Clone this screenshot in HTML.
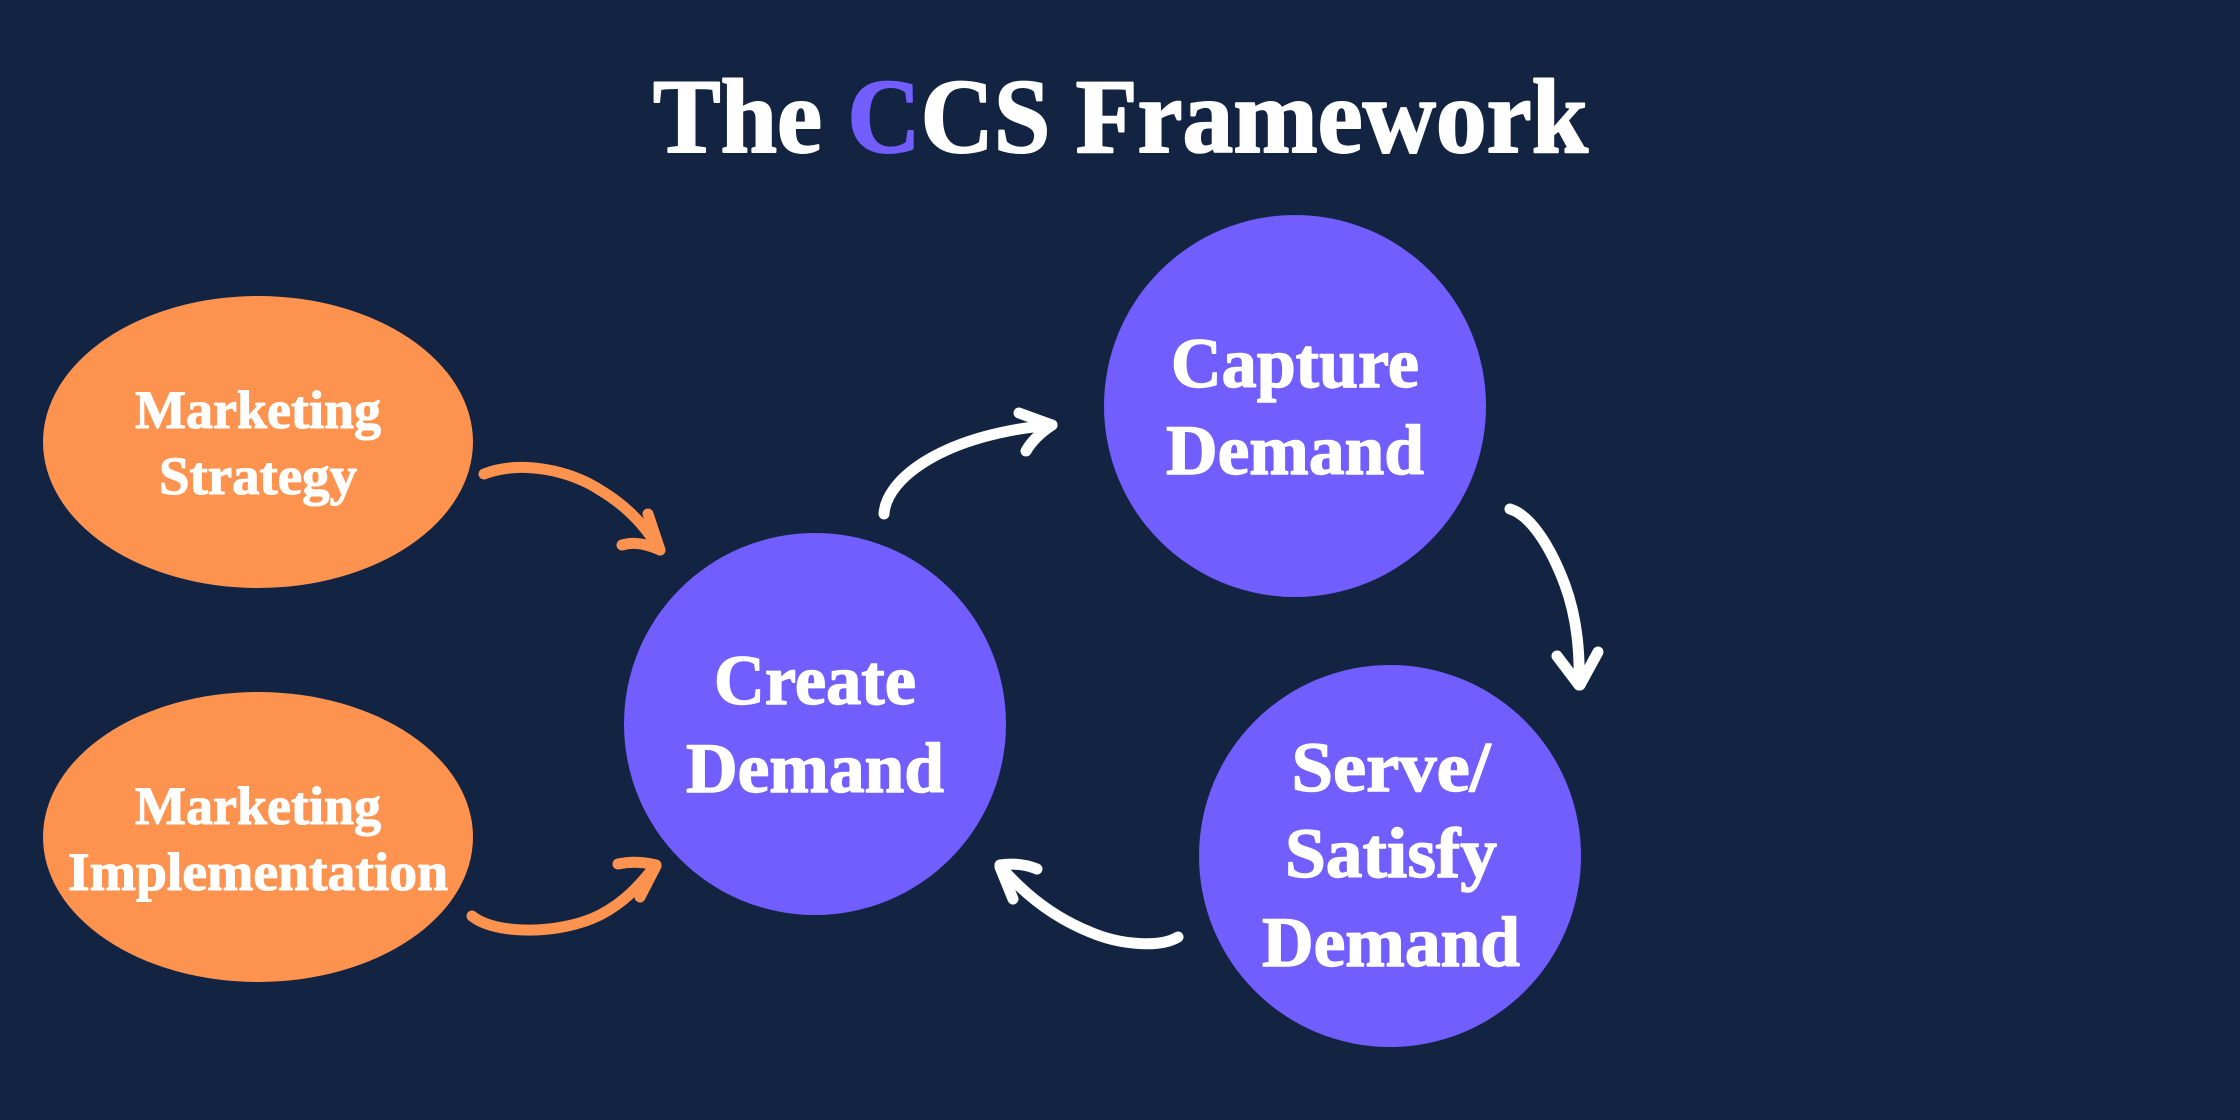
<!DOCTYPE html>
<html>
<head>
<meta charset="utf-8">
<style>
  html, body { margin: 0; padding: 0; background: #122442; }
  svg { display: block; }
  text { font-family: "Liberation Serif", "DejaVu Serif", serif; font-weight: bold; fill: #ffffff; stroke: #ffffff; stroke-linejoin: round; }
</style>
</head>
<body>
<svg width="2240" height="1120" viewBox="0 0 2240 1120" xmlns="http://www.w3.org/2000/svg">
  <rect x="0" y="0" width="2240" height="1120" fill="#122442"/>

  <!-- Title -->
  <text x="653" y="152" font-size="106" stroke-width="2" textLength="935" lengthAdjust="spacingAndGlyphs">The <tspan fill="#725dfe" stroke="#725dfe">C</tspan>CS Framework</text>

  <!-- Orange ellipses -->
  <ellipse cx="258" cy="442" rx="215" ry="146" fill="#fe9350"/>
  <ellipse cx="258" cy="837" rx="215" ry="145" fill="#fe9350"/>

  <g stroke-width="1.1">
  <text x="258" y="428" font-size="54" text-anchor="middle" textLength="246" lengthAdjust="spacingAndGlyphs">Marketing</text>
  <text x="258" y="494" font-size="54" text-anchor="middle" textLength="198" lengthAdjust="spacingAndGlyphs">Strategy</text>
  <text x="258" y="824" font-size="54" text-anchor="middle" textLength="246" lengthAdjust="spacingAndGlyphs">Marketing</text>
  <text x="258" y="890" font-size="54" text-anchor="middle" textLength="380" lengthAdjust="spacingAndGlyphs">Implementation</text>
  </g>

  <!-- Purple circles -->
  <circle cx="815" cy="724" r="191" fill="#725dfe"/>
  <circle cx="1295" cy="406" r="191" fill="#725dfe"/>
  <circle cx="1390" cy="856" r="191" fill="#725dfe"/>

  <g stroke-width="1.4">
  <text x="815" y="704" font-size="71" text-anchor="middle" textLength="202" lengthAdjust="spacingAndGlyphs">Create</text>
  <text x="815" y="792" font-size="71" text-anchor="middle" textLength="258" lengthAdjust="spacingAndGlyphs">Demand</text>

  <text x="1295" y="387" font-size="71" text-anchor="middle" textLength="248" lengthAdjust="spacingAndGlyphs">Capture</text>
  <text x="1295" y="474" font-size="71" text-anchor="middle" textLength="258" lengthAdjust="spacingAndGlyphs">Demand</text>

  <text x="1391" y="791" font-size="71" text-anchor="middle" textLength="199" lengthAdjust="spacingAndGlyphs">Serve/</text>
  <text x="1391" y="877" font-size="71" text-anchor="middle" textLength="212" lengthAdjust="spacingAndGlyphs">Satisfy</text>
  <text x="1391" y="966" font-size="71" text-anchor="middle" textLength="258" lengthAdjust="spacingAndGlyphs">Demand</text>
  </g>

  <!-- Orange arrows -->
  <g fill="none" stroke="#fe9350" stroke-width="11" stroke-linecap="round" stroke-linejoin="round">
    <path d="M484,474 C520,460 570,470 600,490 C625,505 645,525 658,548"/>
    <path d="M622,545 Q638,540 660,550"/>
    <path d="M648,514 L660,550"/>

    <path d="M472,916 C495,935 560,935 600,915 C625,902 640,885 655,866"/>
    <path d="M618,864 Q636,860 656,865"/>
    <path d="M640,897 L656,866"/>
  </g>

  <!-- White arrows -->
  <g fill="none" stroke="#ffffff" stroke-width="11" stroke-linecap="round" stroke-linejoin="round">
    <path d="M884,514 C886,478 945,434 1052,425"/>
    <path d="M1019,413 L1052,425"/>
    <path d="M1026,451 Q1034,437 1052,425"/>

    <path d="M1510,509 C1530,515 1550,545 1565,585 C1576,615 1580,650 1579,684"/>
    <path d="M1557,656 L1579,685"/>
    <path d="M1598,652 L1580,685"/>

    <path d="M1178,937 C1160,948 1120,945 1090,932 C1055,918 1025,895 1000,866"/>
    <path d="M1037,869 Q1020,862 1000,865"/>
    <path d="M1013,899 L1000,867"/>
  </g>
</svg>
</body>
</html>
